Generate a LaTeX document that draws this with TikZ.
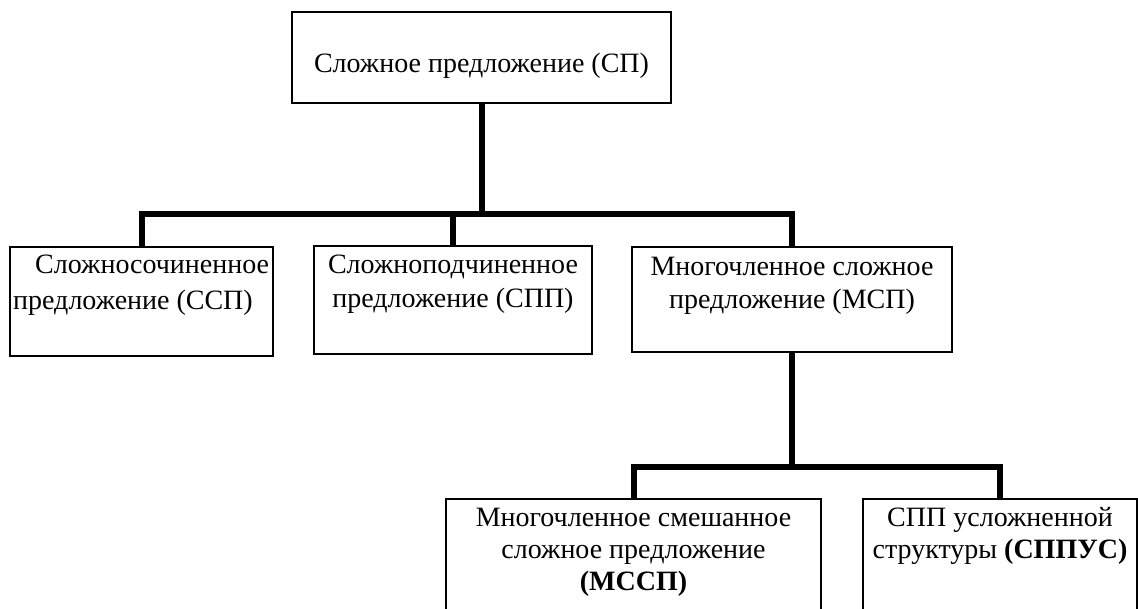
\documentclass[tikz,border=0pt]{standalone}
\usepackage{fontspec}
\setmainfont{Liberation Serif}
\tikzset{
  box/.style={draw=black, line width=1.5pt, rectangle, inner sep=0pt},
  conn/.style={draw=black, line width=6pt, line join=miter},
  txt/.style={inner sep=0pt, anchor=base, font=\fontsize{28}{33}\selectfont},
  txtl/.style={txt, anchor=base west}
}
\begin{document}
\begin{tikzpicture}[x=1pt, y=-1pt]
\clip (0,0) rectangle (1138,608);
% boxes
\node[box, minimum width=379pt, minimum height=91pt] (top) at (481.5,57.5) {};
\node[box, minimum width=263pt, minimum height=109pt] (b1) at (141.5,301.5) {};
\node[box, minimum width=278pt, minimum height=108pt] (b2) at (453,300) {};
\node[box, minimum width=320pt, minimum height=105pt] (b3) at (792,299.5) {};
\node[box, minimum width=375pt, minimum height=140pt] (b4) at (633.5,569) {};
\node[box, minimum width=274pt, minimum height=140pt] (b5) at (1000,569) {};
% texts
\node[txt] (t0) at (481.5,72) {Сложное предложение (СП)};
\node[txtl] (t1a) at (35,273) {Сложносочиненное};
\node[txtl] (t1b) at (13,309) {предложение (ССП)};
\node[txt] (t2a) at (453,273) {Сложноподчиненное};
\node[txt] (t2b) at (453,307) {предложение (СПП)};
\node[txt] (t3a) at (792,275) {Многочленное сложное};
\node[txt] (t3b) at (792,308) {предложение (МСП)};
\node[txt] (t4a) at (633.5,526) {Многочленное смешанное};
\node[txt] (t4b) at (633.5,558) {сложное предложение};
\node[txt] (t4c) at (633.5,590) {\textbf{(МССП)}};
\node[txt] (t5a) at (1000,526) {СПП усложненной};
\node[txt] (t5b) at (1000,558) {структуры \textbf{(СППУС)}};
% connectors
\coordinate (j1) at (481.5,214);
\coordinate (j2) at (792,467);
\draw[conn] (top.south) -- (j1);
\draw[conn] (b1.north) -- (b1.north |- j1) -- (b3.north |- j1) -- (b3.north);
\draw[conn] (b2.north) -- (b2.north |- j1);
\draw[conn] (b3.south) -- (j2);
\draw[conn] (b4.north) -- (b4.north |- j2) -- (b5.north |- j2) -- (b5.north);
\end{tikzpicture}
\end{document}
